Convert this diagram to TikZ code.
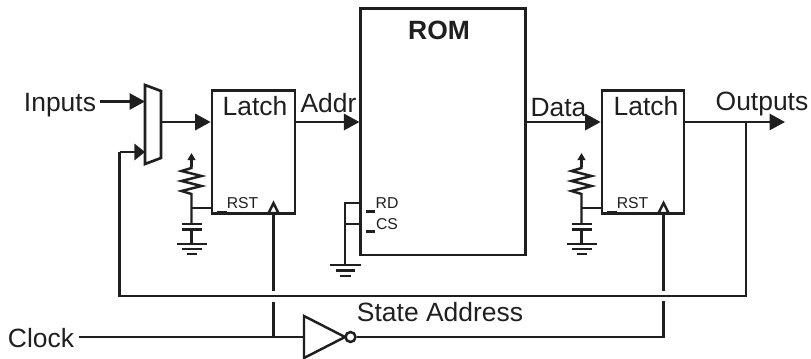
\documentclass[tikz,border=0pt]{standalone}
\usepackage{fontspec}
\setmainfont{Liberation Sans}
\usetikzlibrary{arrows.meta}
\tikzset{
  wire/.style={line width=1.75pt, draw=black!88},
  sig/.style={wire, -{Triangle[length=11pt,width=11.5pt]}},
  pull/.style={wire, -{Triangle[length=5pt,width=5.5pt]}},
  block/.style={draw=black!88, line width=1.9pt, fill=white, inner sep=0pt},
  label/.style={font=\fontsize{18.8}{20}\selectfont, anchor=base, inner sep=0pt, text=black!88},
  pin/.style={font=\fontsize{11.2}{12}\selectfont, anchor=base, inner sep=0pt, text=black!88},
  bar/.style={line width=1.75pt, draw=black!88},
  tick/.style={draw=black!88, line width=1.75pt, fill=white, line join=miter},
}
% one pull-up resistor, capacitor and ground, hung on a latch
\newcommand{\resetnet}[3]{%
  \coordinate (#1res) at (#2,167);
  \coordinate (#1mid) at (#2,208);
  \coordinate (#1gnd) at (#2,244);
  \draw[pull] (#1res) -- (#2,153);
  \draw[wire] (#1res) -- ++(0,1) -- ++(-10,3) -- ++(20,5) -- ++(-20,5) -- ++(20,5) -- ++(-20,5) -- ++(10,3)
    -- (#1mid) -- (#2,224);
  \draw[wire] (#1mid) -- (#3.west |- #1mid);
  \draw[wire] (#2,229.5) -- (#1gnd);
  \draw[bar] (#2-10,224) -- ++(20,0);
  \draw[bar] (#2-10,229.5) -- ++(20,0);
  \draw[bar] (#2-15,244) -- ++(30,0);
  \draw[bar] (#2-10,249) -- ++(20,0);
  \draw[bar] (#2-5,254) -- ++(10,0);
}
\begin{document}
\begin{tikzpicture}[x=0.025cm,y=-0.025cm]
\useasboundingbox (0,0) rectangle (811,358);
% blocks
\node[block, minimum width=2.075cm, minimum height=3.075cm] (latcha) at (253.5,152) {};
\node[block, minimum width=2.05cm, minimum height=3.075cm] (latchb) at (643,152) {};
\node[block, minimum width=4.11cm, minimum height=6.17cm] (rom) at (443,131.7) {};
\coordinate (muxnw) at (145,85);
\coordinate (muxne) at (161,91);
\coordinate (muxse) at (161,158);
\coordinate (muxsw) at (145,164);
\draw[block] (muxnw) -- (muxne) -- (muxse) -- (muxsw) -- cycle;
% data path
\coordinate (inputs) at (100,101.5);
\coordinate (muxout) at (161,122);
\coordinate (fbin) at (145,152);
\coordinate (fbleft) at (119.5,296);
\coordinate (fbtap) at (746,122);
\coordinate (outputs) at (785,122);
\draw[sig] (inputs) -- (inputs -| muxnw);
\draw[sig] (muxout) -- (muxout -| latcha.west);
\draw[sig] (latcha.east |- muxout) -- (muxout -| rom.west);
\draw[sig] (rom.east |- muxout) -- (muxout -| latchb.west);
\draw[sig] (latchb.east |- muxout) -- (outputs);
\draw[wire] (fbtap) -- (fbtap |- fbleft) -- (fbleft) -- (fbleft |- fbin);
\draw[sig, -{Triangle[length=7.5pt,width=11.5pt]}] (fbleft |- fbin) -- (fbin);
% clock
\coordinate (clock) at (79,337);
\coordinate (clka) at (273.5,337);
\coordinate (clkb) at (663.5,337);
\coordinate (invtop) at (304,316);
\coordinate (invbot) at (304,358);
\coordinate (invtip) at (345,337);
\node[draw=black!88, line width=1.75pt, circle, minimum size=0.25cm, inner sep=0pt] (bubble) at (350.5,337) {};
\draw[wire] (invtop) -- (invtip) -- (invbot) -- cycle;
\draw[wire] (clock) -- (clock -| invtop);
\draw[wire] (bubble) -- (clkb);
\draw[wire] (clka) -- (273.5,302);
\draw[wire] (273.5,291) -- (273.5,208);
\draw[wire, line cap=rect] (clkb) -- (663.5,302);
\draw[wire] (663.5,291) -- (663.5,208);
\draw[tick] (268.5,213) -- (273.5,203) -- (278.5,213) -- cycle;
\draw[tick] (658.5,213) -- (663.5,203) -- (668.5,213) -- cycle;
% reset and select pins
\resetnet{na}{191.5}{latcha}
\resetnet{nb}{581.5}{latchb}
\draw[bar] (217,212) -- ++(10,0);
\draw[bar] (607,212) -- ++(10,0);
\coordinate (rdpin) at (345,203);
\coordinate (cspin) at (345,224);
\draw[wire] (rom.west |- rdpin) -- (rdpin) -- (345,265);
\draw[wire] (rom.west |- cspin) -- (cspin);
\draw[bar] (330,265) -- ++(31,0);
\draw[bar] (336,270.5) -- ++(19,0);
\draw[bar] (340,276) -- ++(11,0);
\draw[bar] (366,211.7) -- ++(9,0);
\draw[bar] (366,231.7) -- ++(9,0);
% labels
\node[label] (inputslabel) at (60,111.5) {Inputs};
\node[label] (latchalabel) at (255,115.5) {Latch};
\node[label] (latchblabel) at (646,115.5) {Latch};
\node[label] (addrlabel) at (328.5,112) {Addr};
\node[label] (datalabel) at (558.5,116) {Data};
\node[label] (outputslabel) at (762,110.5) {Outputs};
\node[label] (clocklabel) at (41,347.5) {Clock};
\node[label] (statelabel) at (440,321.5) {State Address};
\node[label, font=\fontsize{18.8}{20}\selectfont\bfseries] (romlabel) at (439,39) {ROM};
\node[pin] (rstalabel) at (242.5,208) {RST};
\node[pin] (rstblabel) at (632.5,208) {RST};
\node[pin] (rdlabel) at (387,208) {RD};
\node[pin] (cslabel) at (387,229) {CS};
\end{tikzpicture}
\end{document}
